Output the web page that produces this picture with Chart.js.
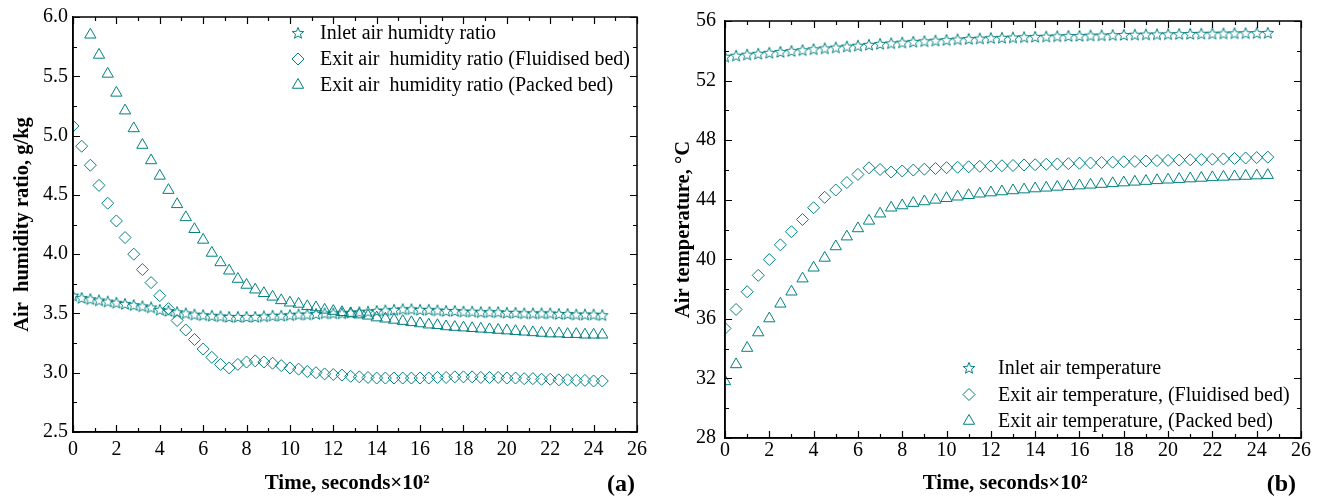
<!DOCTYPE html>
<html><head><meta charset="utf-8">
<script src="https://cdn.jsdelivr.net/npm/chart.js@4.4.1/dist/chart.umd.min.js"></script>
<style>
html,body{margin:0;padding:0;background:#fff;overflow:hidden}
#wrap{position:relative;width:1324px;height:501px}
canvas{position:absolute;top:0}
#ca{left:0}#cb{left:662px}
</style></head><body>
<div id="wrap"><canvas id="ca" width="662" height="501"></canvas><canvas id="cb" width="662" height="501"></canvas></div>
<script>
// ---------- DATA ----------
const timeA = [0,0.4,0.8,1.2,1.6,2.0,2.4,2.8,3.2,3.6,4.0,4.4,4.8,5.2,5.6,6.0,6.4,6.8,7.2,7.6,8.0,8.4,8.8,9.2,9.6,10.0,10.4,10.8,11.2,11.6,12.0,12.4,12.8,13.2,13.6,14.0,14.4,14.8,15.2,15.6,16.0,16.4,16.8,17.2,17.6,18.0,18.4,18.8,19.2,19.6,20.0,20.4,20.8,21.2,21.6,22.0,22.4,22.8,23.2,23.6,24.0,24.4];
const inletHumidity = [3.65,3.63,3.62,3.61,3.60,3.59,3.58,3.57,3.56,3.55,
 3.53,3.52,3.51,3.50,3.49,3.485,3.48,3.475,3.47,3.47,
 3.47,3.47,3.475,3.48,3.48,3.485,3.49,3.49,3.495,3.50,
 3.50,3.50,3.505,3.51,3.515,3.52,3.525,3.53,3.535,3.535,
 3.53,3.53,3.525,3.52,3.52,3.515,3.515,3.51,3.51,3.51,
 3.505,3.505,3.50,3.50,3.50,3.50,3.495,3.495,3.49,3.49,
 3.49,3.485];
const exitHumidityFluidised = [5.08,4.91,4.75,4.58,4.43,4.28,4.14,4.00,3.87,3.76,
 3.65,3.54,3.44,3.36,3.28,3.20,3.13,3.07,3.04,3.07,
 3.09,3.10,3.09,3.08,3.06,3.04,3.03,3.01,3.00,2.99,
 2.985,2.98,2.97,2.965,2.96,2.955,2.955,2.955,2.955,2.955,
 2.955,2.955,2.96,2.96,2.965,2.965,2.965,2.96,2.96,2.96,
 2.955,2.955,2.95,2.95,2.945,2.945,2.94,2.94,2.935,2.935,
 2.93,2.93];
const exitHumidityPacked = [6.25,6.04,5.85,5.68,5.52,5.36,5.21,5.06,4.92,4.79,
 4.66,4.54,4.42,4.31,4.21,4.12,4.01,3.93,3.86,3.79,
 3.74,3.70,3.67,3.64,3.61,3.59,3.58,3.56,3.55,3.53,
 3.52,3.51,3.50,3.49,3.48,3.465,3.455,3.445,3.435,3.425,
 3.415,3.405,3.40,3.39,3.385,3.38,3.375,3.37,3.365,3.36,
 3.355,3.35,3.345,3.34,3.335,3.33,3.33,3.325,3.325,3.32,
 3.32,3.32];

const timeB = [0,0.5,1.0,1.5,2.0,2.5,3.0,3.5,4.0,4.5,5.0,5.5,6.0,6.5,7.0,7.5,8.0,8.5,9.0,9.5,10.0,10.5,11.0,11.5,12.0,12.5,13.0,13.5,14.0,14.5,15.0,15.5,16.0,16.5,17.0,17.5,18.0,18.5,19.0,19.5,20.0,20.5,21.0,21.5,22.0,22.5,23.0,23.5,24.0,24.5];
const inletTemp = [53.6,53.67,53.74,53.8,53.86,53.92,53.98,54.04,54.1,54.16,
 54.22,54.28,54.34,54.4,54.46,54.5,54.55,54.6,54.64,54.68,
 54.72,54.76,54.79,54.82,54.85,54.87,54.89,54.91,54.93,54.95,
 54.97,54.99,55.0,55.02,55.03,55.05,55.06,55.08,55.09,55.1,
 55.11,55.12,55.13,55.14,55.15,55.16,55.17,55.18,55.19,55.2];
const exitTempFluidised = [35.36,36.63,37.82,38.92,39.98,40.97,41.85,42.67,43.46,44.16,
 44.65,45.15,45.7,46.14,46.03,45.86,45.93,45.99,46.05,46.1,
 46.15,46.18,46.21,46.24,46.26,46.28,46.3,46.33,46.35,46.38,
 46.4,46.42,46.45,46.47,46.5,46.52,46.55,46.57,46.6,46.62,
 46.64,46.66,46.68,46.7,46.72,46.74,46.77,46.8,46.83,46.86];
const exitTempPacked = [31.8,32.94,34.04,35.08,36.02,37.01,37.82,38.7,39.43,40.09,
 40.86,41.52,42.07,42.58,43.06,43.46,43.61,43.77,43.88,43.99,
 44.1,44.2,44.3,44.4,44.48,44.55,44.62,44.68,44.75,44.8,
 44.86,44.9,44.95,45.0,45.05,45.1,45.15,45.2,45.25,45.3,
 45.34,45.38,45.42,45.46,45.5,45.53,45.56,45.59,45.62,45.65];

const labelsA = ['Inlet air humidty ratio','Exit air  humidity ratio (Fluidised bed)','Exit air  humidity ratio (Packed bed)'];
const labelsB = ['Inlet air temperature','Exit air temperature, (Fluidised bed)','Exit air temperature, (Packed bed)'];
const xTitle = 'Time, seconds×10²   ';
const yTitleA = 'Air  humidity ratio, g/kg';
const yTitleB = 'Air temperature, °C';

// ---------- STYLE ----------
const TEAL = 'rgb(0,128,128)';
const SERIF = "'Liberation Serif','Times New Roman',serif";

function makeStar(){
  const c = document.createElement('canvas');
  c.width = 14; c.height = 14;
  const g = c.getContext('2d');
  g.strokeStyle = TEAL; g.lineWidth = 1;
  g.beginPath();
  const R = 6, r = 2.6, cx = 7, cy = 7.4;
  for (let i = 0; i < 10; i++) {
    const a = -Math.PI/2 + i*Math.PI/5;
    const rr = i % 2 === 0 ? R : r;
    const px = cx + rr*Math.cos(a), py = cy + rr*Math.sin(a);
    if (i === 0) g.moveTo(px, py); else g.lineTo(px, py);
  }
  g.closePath(); g.stroke();
  return c;
}
const STAR = makeStar();

function pts(xs, ys){ return xs.map((x,i)=>({x:x, y:ys[i]})); }

function ds(label, data, style, radius){
  return {label, data, showLine:false, pointStyle:style, pointRadius:radius, pointHoverRadius:radius,
    pointBorderColor:TEAL, pointBackgroundColor:'rgba(0,0,0,0)', pointBorderWidth:1, borderColor:TEAL, clip:0};
}

function drawMarker(ctx, style, x, y, r){
  if (style === STAR) { ctx.drawImage(STAR, x-7, y-7); return; }
  ctx.save(); ctx.strokeStyle = TEAL; ctx.lineWidth = 1; ctx.beginPath();
  if (style === 'triangle') {
    let a = 0;
    ctx.moveTo(x + Math.sin(a)*r, y - Math.cos(a)*r);
    a += 2*Math.PI/3; ctx.lineTo(x + Math.sin(a)*r, y - Math.cos(a)*r);
    a += 2*Math.PI/3; ctx.lineTo(x + Math.sin(a)*r, y - Math.cos(a)*r);
  } else {
    ctx.moveTo(x, y-r); ctx.lineTo(x+r, y); ctx.lineTo(x, y+r); ctx.lineTo(x-r, y);
  }
  ctx.closePath(); ctx.stroke(); ctx.restore();
}

const framePlugin = {
  id:'frameTicks',
  afterDraw(chart, args, o){
    const {ctx, chartArea:a, scales:{x, y}} = chart;
    ctx.save();
    ctx.strokeStyle = '#000'; ctx.lineWidth = 1.5;
    ctx.strokeRect(a.left, a.top, a.right-a.left, a.bottom-a.top);
    ctx.lineWidth = 1.2;
    ctx.beginPath();
    const eps = 1e-6;
    for (let v = x.min; v <= x.max + eps; v += o.xMinor) {
      const major = Math.abs(v/o.xMajor - Math.round(v/o.xMajor)) < 1e-6;
      const L = major ? 7 : 4;
      const px = Math.round(x.getPixelForValue(v)) + 0.5;
      ctx.moveTo(px, a.bottom); ctx.lineTo(px, a.bottom - L);
      ctx.moveTo(px, a.top); ctx.lineTo(px, a.top + L);
    }
    for (let v = y.min; v <= y.max + eps; v += o.yMinor) {
      const major = Math.abs(v/o.yMajor - Math.round(v/o.yMajor)) < 1e-6;
      const L = major ? 7 : 4;
      const py = Math.round(y.getPixelForValue(v)) + 0.5;
      ctx.moveTo(a.left, py); ctx.lineTo(a.left + L, py);
      ctx.moveTo(a.right, py); ctx.lineTo(a.right - L, py);
    }
    ctx.stroke();
    const L = o.legend;
    ctx.font = '20px ' + SERIF; ctx.fillStyle = '#000'; ctx.textBaseline = 'middle'; ctx.textAlign = 'left';
    chart.data.datasets.forEach((d, i) => {
      const yy = L.y + i*L.dy;
      drawMarker(ctx, d.pointStyle, L.mx, yy, d.pointRadius);
      ctx.fillText(d.label, L.tx, yy + 1);
    });
    ctx.font = 'bold 24px ' + SERIF; ctx.textAlign = 'right'; ctx.textBaseline = 'alphabetic';
    ctx.fillText(o.tag, a.right - o.tagInset, 491);
    ctx.restore();
  }
};

function makeChart(id, datasets, cfg){
  return new Chart(document.getElementById(id), {
    type:'scatter',
    data:{datasets},
    plugins:[framePlugin],
    options:{
      responsive:false, animation:false, devicePixelRatio:1,
      layout:{padding:{left:0, right:cfg.padRight, top:cfg.padTop, bottom:0}},
      plugins:{legend:{display:false}, tooltip:{enabled:false},
        frameTicks:{xMajor:2, xMinor:1, yMajor:cfg.yMajor, yMinor:cfg.yMajor/2, legend:cfg.legend, tag:cfg.tag, tagInset:cfg.tagInset}},
      scales:{
        x:{type:'linear', min:0, max:26, afterFit(s){ s.height = cfg.xH; },
          grid:{display:false, drawTicks:false}, border:{display:true, color:'#000', width:1.5},
          ticks:{stepSize:2, autoSkip:false, maxRotation:0, padding:cfg.xPad, color:'#000', font:{family:SERIF, size:20}},
          title:{display:true, text:xTitle, color:'#000', font:{family:SERIF, size:21, weight:'bold'}, padding:{top:0, bottom:5}}},
        y:{type:'linear', min:cfg.yMin, max:cfg.yMax, afterFit(s){ s.width = cfg.yW; },
          grid:{display:false, drawTicks:false}, border:{display:true, color:'#000', width:1.5},
          ticks:{stepSize:cfg.yMajor, autoSkip:false, padding:cfg.yPad, color:'#000', font:{family:SERIF, size:20}, callback:cfg.fmt},
          title:{display:true, text:cfg.yTitle, color:'#000', font:{family:SERIF, size:20.5, weight:'bold'}, padding:{top:cfg.yTitlePad, bottom:0}}}
      }
    }
  });
}

makeChart('ca', [
  ds(labelsA[0], pts(timeA, inletHumidity), STAR, 6),
  ds(labelsA[1], pts(timeA, exitHumidityFluidised), 'rectRot', 6),
  ds(labelsA[2], pts(timeA, exitHumidityPacked), 'triangle', 6.5)
], {padRight:25, padTop:17, xH:69, yW:73, xPad:6, yPad:5, yMin:2.5, yMax:6, yMajor:0.5, fmt:v=>v.toFixed(1),
    yTitle:yTitleA, yTitlePad:10, tag:'(a)', tagInset:2, legend:{mx:298, tx:320, y:33, dy:26}});

makeChart('cb', [
  ds(labelsB[0], pts(timeB, inletTemp), STAR, 6),
  ds(labelsB[1], pts(timeB, exitTempFluidised), 'rectRot', 6),
  ds(labelsB[2], pts(timeB, exitTempPacked), 'triangle', 6.5)
], {padRight:23, padTop:14, xH:63, yW:63, xPad:1, yPad:9, yMin:28, yMax:56, yMajor:4, fmt:v=>String(v),
    yTitle:yTitleB, yTitlePad:9, tag:'(b)', tagInset:5, legend:{mx:307, tx:336, y:368, dy:26.5}});
</script>
</body></html>
